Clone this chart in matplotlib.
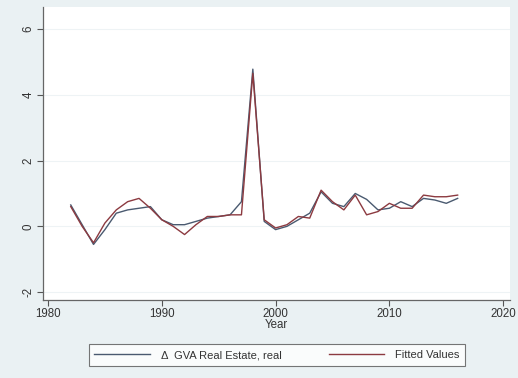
import matplotlib
matplotlib.use("Agg")
import matplotlib.pyplot as plt

years = list(range(1982, 2017))
actual = [0.65, 0.05, -0.55, -0.1, 0.4, 0.5, 0.55, 0.6, 0.2, 0.05, 0.05, 0.15, 0.25, 0.3, 0.35, 0.75,
          4.78, 0.15, -0.1, 0.0, 0.2, 0.4, 1.05, 0.7, 0.6, 1.0, 0.82, 0.5, 0.55, 0.75, 0.6, 0.85, 0.8, 0.7, 0.85]
fitted = [0.6, 0.0, -0.5, 0.1, 0.5, 0.75, 0.85, 0.55, 0.2, 0.0, -0.25, 0.05, 0.3, 0.3, 0.35, 0.35,
          4.65, 0.2, -0.05, 0.05, 0.3, 0.25, 1.1, 0.75, 0.5, 0.95, 0.35, 0.45, 0.7, 0.55, 0.55, 0.95, 0.9, 0.9, 0.95]
xticks = [1980, 1990, 2000, 2010, 2020]
yticks = [-2, 0, 2, 4, 6]
labels = ["\u0394  GVA Real Estate, real", "Fitted Values"]

plt.rcParams['font.family'] = ['Liberation Sans', 'DejaVu Sans']
bg = '#eaf1f3'
fig = plt.figure(figsize=(5.18, 3.78), dpi=100, facecolor=bg)
ax = fig.add_axes([43/518, 78/378, (510-43)/518, (300-7)/378])
ax.set_facecolor('white')

for y in yticks:
    ax.axhline(y, color='#eef3f5', lw=0.8, zorder=0)

l1, = ax.plot(years, actual, color='#4a5a70', lw=1.0, label=labels[0])
l2, = ax.plot(years, fitted, color='#8c3a40', lw=1.0, label=labels[1])

ax.set_xlim(1979.56, 2020.6)
ax.set_ylim(-2.24, 6.67)
ax.set_xticks(xticks)
ax.set_yticks(yticks)
ax.set_yticklabels([str(v) for v in yticks], rotation=90, va='center')
ax.tick_params(axis='both', direction='out', length=4, width=0.8, color='#555555',
               labelsize=8.3, labelcolor='#333333', pad=2)
for s in ['top', 'right']:
    ax.spines[s].set_visible(False)
for s in ['left', 'bottom']:
    ax.spines[s].set_color('#666666')
    ax.spines[s].set_linewidth(0.9)
ax.set_xlabel('Year', fontsize=8.3, color='#333333', labelpad=-1)

leg = fig.legend(handles=[l1, l2], loc='center', bbox_to_anchor=(277/518, 1 - 355/378),
                 ncol=2, fontsize=8, frameon=True, fancybox=False, edgecolor='#555555',
                 handlelength=5.0, columnspacing=4.2, borderpad=0.5, handletextpad=1.0)
leg.get_frame().set_linewidth(0.8)
for t in leg.get_texts():
    t.set_color('#333333')

fig.savefig('out.png', dpi=100, facecolor=bg)
